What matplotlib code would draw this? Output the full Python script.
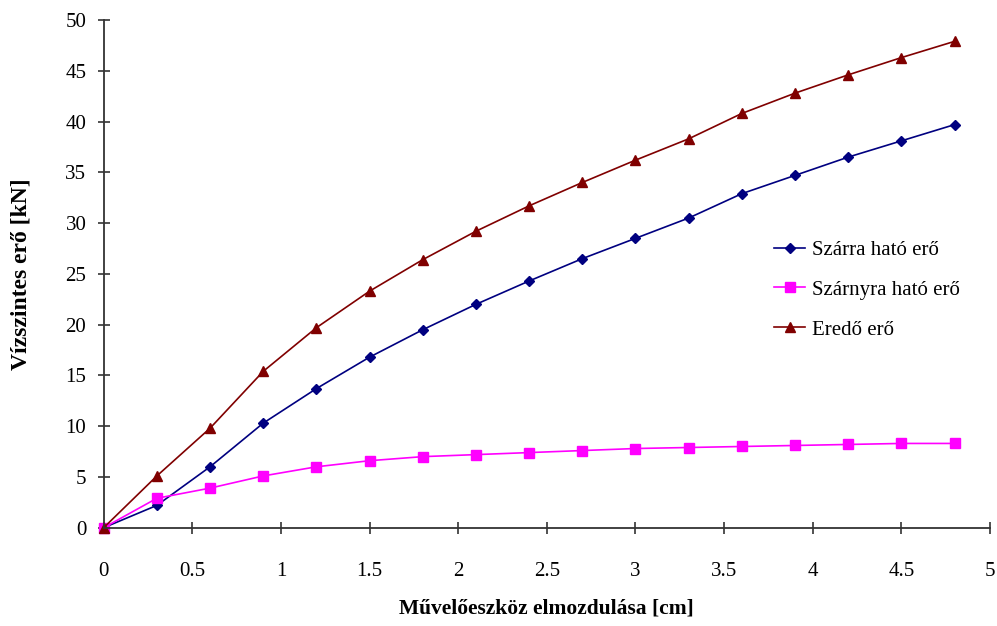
import matplotlib
matplotlib.use("Agg")
import matplotlib.pyplot as plt

x = [0, 0.3, 0.6, 0.9, 1.2, 1.5, 1.8, 2.1, 2.4, 2.7, 3.0, 3.3, 3.6, 3.9, 4.2, 4.5, 4.8]
szarra = [0, 2.2, 6.0, 10.3, 13.7, 16.8, 19.5, 22.0, 24.3, 26.5, 28.5, 30.5, 32.9, 34.7, 36.5, 38.1, 39.7]
szarnyra = [0, 2.9, 3.9, 5.1, 6.0, 6.6, 7.0, 7.2, 7.4, 7.6, 7.8, 7.9, 8.0, 8.1, 8.2, 8.3, 8.3]
eredo = [0, 5.1, 9.8, 15.4, 19.7, 23.3, 26.4, 29.2, 31.7, 34.0, 36.2, 38.3, 40.8, 42.8, 44.6, 46.3, 47.9]
labels = ["Szárra ható erő", "Szárnyra ható erő", "Eredő erő"]
xticks = [0, 0.5, 1, 1.5, 2, 2.5, 3, 3.5, 4, 4.5, 5]
yticks = list(range(0, 51, 5))

plt.rcParams['font.family'] = ['Liberation Serif', 'DejaVu Serif']

fig = plt.figure(figsize=(9.97, 6.26), dpi=100)
ax = fig.add_axes([0.104, 0.157, 0.889, 0.811])

ax.plot(x, szarra, color='#000080', marker='D', markersize=5.5, lw=1.2, label=labels[0])
ax.plot(x, szarnyra, color='#FF00FF', marker='s', markersize=6.5, lw=1.2, label=labels[1])
ax.plot(x, eredo, color='#800000', marker='^', markersize=7, lw=1.2, label=labels[2])

ax.set_xlim(0, 5)
ax.set_ylim(0, 50)
ax.set_xticks(xticks)
ax.set_xticklabels([f"{v:g}" for v in xticks])
ax.set_yticks(yticks)
ax.spines['top'].set_visible(False)
ax.spines['right'].set_visible(False)
for s in ['left', 'bottom']:
    ax.spines[s].set_color('#333333')
    ax.spines[s].set_linewidth(1.3)
ax.tick_params(direction='inout', length=9, width=1.1, labelsize=15, color='#222222')
ax.tick_params(axis='x', pad=20)
ax.tick_params(axis='y', pad=8)
for line in ax.lines:
    line.set_clip_on(False)

ax.set_xlabel("Művelőeszköz elmozdulása [cm]", fontsize=15.5, fontweight='bold', labelpad=13)
ax.set_ylabel("Vízszintes erő [kN]", fontsize=17, fontweight='bold', labelpad=24)

ax.legend(loc='upper left', bbox_to_anchor=(0.735, 0.603), frameon=False, fontsize=15,
          handlelength=1.5, handletextpad=0.35, labelspacing=0.97)

fig.savefig("out.png", dpi=100)
